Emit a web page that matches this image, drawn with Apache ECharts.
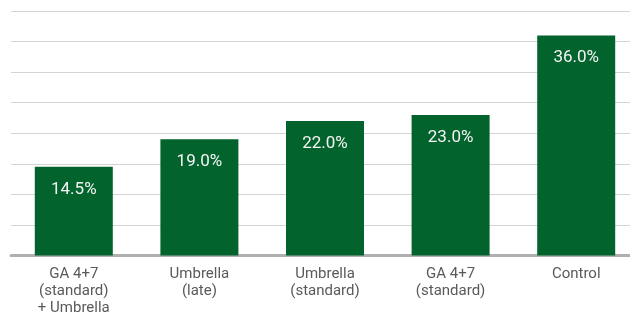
<!DOCTYPE html>
<html>
<head>
<meta charset="utf-8">
<script src="https://cdn.jsdelivr.net/npm/echarts@6/dist/echarts.min.js"></script>
<style>
  html, body { margin: 0; padding: 0; background: #fff; }
  #chart { width: 630px; height: 313px; }
</style>
</head>
<body>
<div id="chart"></div>
<script>
// data
const categories = [
  "GA 4+7\n(standard)\n+ Umbrella",
  "Umbrella\n(late)",
  "Umbrella\n(standard)",
  "GA 4+7\n(standard)",
  "Control"
];
const values = [14.5, 19.0, 22.0, 23.0, 36.0];

const myChart = echarts.init(document.getElementById("chart"));

const option = {
  animation: false,
  grid: {
    left: 11, top: 11, width: 628, bottom: 57.5,
    containLabel: false,
    outerBoundsMode: "none"
  },
  xAxis: {
    type: "category",
    data: categories,
    axisTick: { show: false },
    axisLine: { lineStyle: { color: "#b0b0b0", width: 3 } },
    axisLabel: {
      color: "#5a5a5a",
      fontFamily: "Roboto",
      fontSize: 15,
      lineHeight: 17,
      margin: 10,
      interval: 0
    }
  },
  yAxis: {
    type: "value",
    min: 0,
    max: 40,
    interval: 5,
    axisLabel: { show: false },
    axisLine: { show: false },
    axisTick: { show: false },
    splitLine: { lineStyle: { color: "#d4d4d4", width: 1 } }
  },
  series: [
    {
      type: "bar",
      data: values,
      barWidth: 78,
      itemStyle: { color: "#02632d" },
      label: {
        show: true,
        position: "insideTop",
        distance: 14,
        color: "#f4f4f4",
        fontFamily: "Roboto",
        fontSize: 17,
        formatter: (p) => p.value.toFixed(1) + "%"
      }
    }
  ]
};

myChart.setOption(option);
</script>
</body>
</html>
